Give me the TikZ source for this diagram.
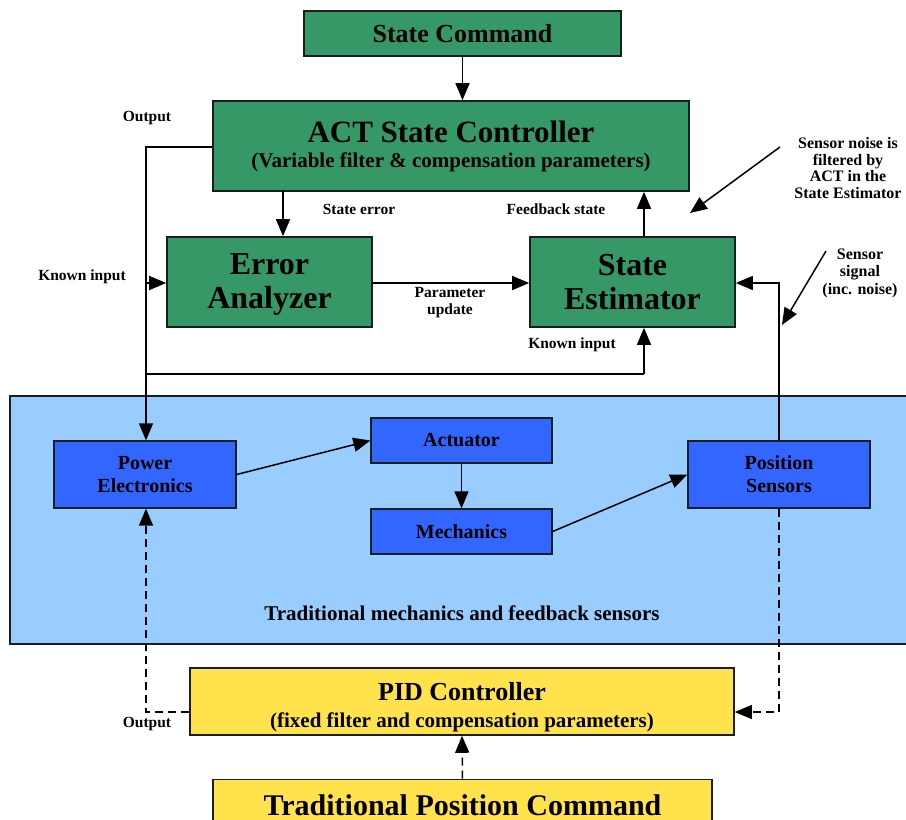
\documentclass[tikz,border=0pt]{standalone}
\usepackage{fontspec}
\setmainfont{Liberation Serif}
\usetikzlibrary{arrows.meta}
\definecolor{gbox}{RGB}{54,152,102}
\definecolor{bbox}{RGB}{51,102,255}
\definecolor{lblue}{RGB}{153,204,255}
\definecolor{ybox}{RGB}{255,226,76}
\definecolor{edge}{RGB}{25,30,30}
\tikzset{
  gnode/.style={draw=edge, line width=1.6pt, fill=gbox, inner sep=0pt, align=center},
  bnode/.style={draw=edge, line width=1.3pt, fill=bbox, inner sep=0pt, align=center, font=\bfseries\fontsize{20}{23}\selectfont},
  ynode/.style={draw=edge, line width=1.6pt, fill=ybox, inner sep=0pt, align=center},
  lbl/.style={font=\bfseries\fontsize{15.5}{17}\selectfont, align=center, inner sep=0pt},
  conn/.style={line width=1.5pt, -{Triangle[length=17pt,width=14pt]}},
  dconn/.style={line width=1.5pt, dash pattern=on 8pt off 5pt, -{Triangle[length=17pt,width=14pt]}},
}
\begin{document}
\begin{tikzpicture}[x=1pt,y=-1pt]
\clip (0,0) rectangle (906,820);
\fill[white] (0,0) rectangle (906,820);
% blue region
\node[draw=edge, line width=1.3pt, fill=lblue, minimum width=902pt, minimum height=248pt, inner sep=0pt] (region) at (461,520) {};
\node[font=\bfseries\fontsize{21}{24}\selectfont] (regionlbl) at (462,613) {Traditional mechanics and feedback sensors};
% green boxes
\node[gnode, minimum width=317pt, minimum height=45pt, font=\bfseries\fontsize{26}{28}\selectfont] (cmd) at (462.5,33.5) {State Command};
\node[gnode, minimum width=476pt, minimum height=90pt, font=\bfseries\fontsize{31}{25}\selectfont] (act) at (451,146) {ACT State Controller\\{\fontsize{21}{24}\selectfont (Variable filter \& compensation parameters)}};
\node[gnode, minimum width=205pt, minimum height=90pt, font=\bfseries\fontsize{32}{34}\selectfont] (err) at (269.5,282) {\rule{0pt}{26pt}Error\\Analyzer};
\node[gnode, minimum width=205pt, minimum height=90pt, font=\bfseries\fontsize{32}{34}\selectfont] (est) at (632.5,282) {State\\Estimator};
% blue boxes
\node[bnode, minimum width=182pt, minimum height=67pt] (pe) at (145,474.5) {Power\\Electronics};
\node[bnode, minimum width=181pt, minimum height=45pt] (actu) at (461.5,440.5) {Actuator};
\node[bnode, minimum width=181pt, minimum height=45pt] (mech) at (461.5,531.5) {Mechanics};
\node[bnode, minimum width=182pt, minimum height=67pt] (pos) at (779,474.5) {Position\\Sensors};
% yellow boxes
\node[ynode, minimum width=544pt, minimum height=67pt, font=\bfseries\fontsize{26}{27}\selectfont] (pid) at (462,701.5) {\rule{0pt}{30pt}PID Controller\\{\fontsize{21}{24}\selectfont (fixed filter and compensation parameters)}};
\node[ynode, minimum width=499pt, minimum height=51pt, text depth=0pt, font=\bfseries\fontsize{30}{32}\selectfont] (tpc) at (462.5,805) {Traditional Position Command};
% coordinates
\coordinate (outc) at (146,147);
\coordinate (ki) at (146,283);
\coordinate (kib) at (146,374);
\coordinate (kie) at (644,374);
\coordinate (sens) at (779,283);
\coordinate (pidl) at (146,712);
\coordinate (pidr) at (779,712);
\coordinate (aerr) at (283,191);
\coordinate (n1) at (780,147);
\coordinate (n1t) at (690,213);
\coordinate (n2) at (826,251);
\coordinate (n2t) at (782,325);
% connectors
\draw[conn] (cmd.south) -- (cmd.south |- act.north);
\draw[conn] (aerr) -- (err.north -| aerr);
\draw[conn] (est.north -| kie) -- (act.south -| kie);
\draw[conn] (act.west |- outc) -- (outc) -- (pe.north -| outc);
\draw[conn] (ki) -- (err.west |- ki);
\draw[line width=1.5pt] (kib) -- (kie);
\draw[conn] (kie) -- (est.south -| kie);
\draw[conn] (err.east |- ki) -- (est.west |- ki);
\draw[conn] (pos.north -| sens) -- (sens) -- (est.east |- sens);
\draw[conn] (n1) -- (n1t);
\draw[conn] (n2) -- (n2t);
\draw[conn] (pe.east) -- (actu.west);
\draw[conn] (actu.south) -- (mech.north);
\draw[conn] (mech.east) -- (pos.west);
\draw[dconn] (pid.west |- pidl) -- (pidl) -- (pe.south -| pidl);
\draw[dconn] (pos.south -| pidr) -- (pidr) -- (pid.east |- pidr);
\draw[dconn] (tpc.north) -- (pid.south);
% labels
\node[lbl] (l1) at (147,118) {Output};
\node[lbl] (l2) at (359,209) {State error};
\node[lbl] (l3) at (556,209) {Feedback state};
\node[lbl] (l4) at (82,277) {Known input};
\node[lbl] (l5) at (450,303) {Parameter\\update};
\node[lbl] (l6) at (572,345) {Known input};
\node[lbl, font=\bfseries\fontsize{16}{16.5}\selectfont] (l7) at (848,168) {Sensor noise is\\filtered by\\ACT in the\\State Estimator};
\node[lbl, font=\bfseries\fontsize{16}{17.5}\selectfont] (l8) at (860,273) {Sensor\\signal\\(inc. noise)};
\node[lbl] (l9) at (147,724) {Output};
\end{tikzpicture}
\end{document}
